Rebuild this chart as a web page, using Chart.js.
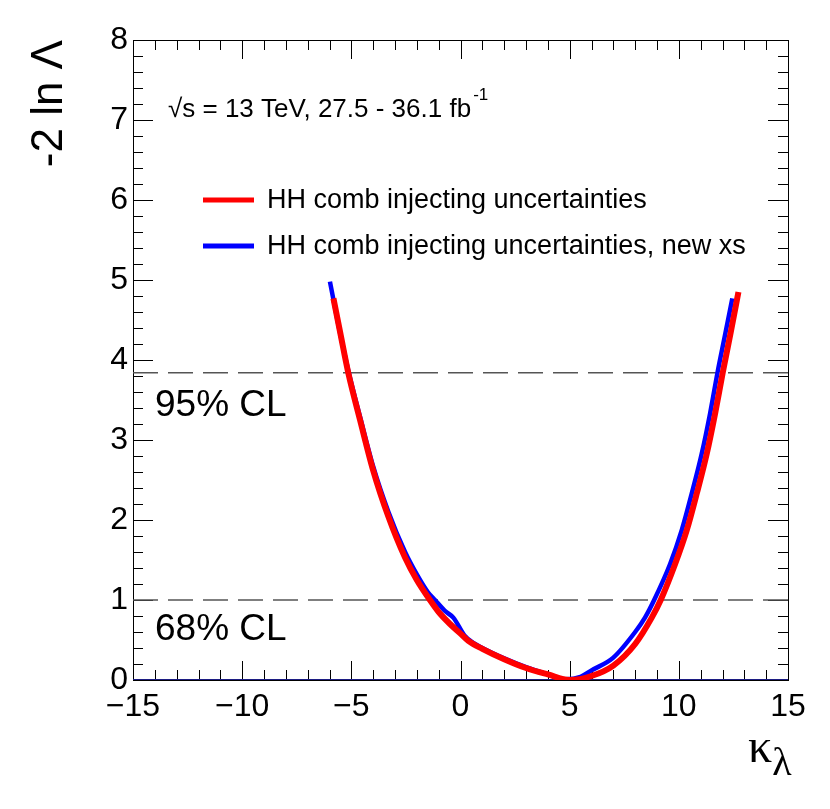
<!DOCTYPE html>
<html>
<head>
<meta charset="utf-8">
<title>-2 ln Lambda scan</title>
<script src="https://cdn.jsdelivr.net/npm/chart.js@4.4.1/dist/chart.umd.min.js"></script>
<style>
  html, body { margin: 0; padding: 0; background: #fff; }
</style>
</head>
<body>
<canvas id="scan" width="830" height="809"></canvas>
<script>
// likelihood scan values
const redKappa = [-5.82, -5.5, -5.14, -4.6, -4.0, -3.3, -2.54, -2.0, -1.4, -1.0, -0.48, 0.0, 0.36, 1.0, 2.0, 3.0, 4.0, 5.0, 6.0, 7.0, 8.0, 8.76, 9.17, 9.83, 10.36, 10.82, 11.28, 11.66, 12.01, 12.38, 12.73];
const redNll   = [4.77, 4.33, 3.84, 3.25, 2.62, 2.04, 1.53, 1.25, 1.00, 0.85, 0.70, 0.58, 0.49, 0.39, 0.26, 0.15, 0.07, 0.00, 0.05, 0.18, 0.45, 0.78, 1.00, 1.45, 1.87, 2.33, 2.83, 3.33, 3.84, 4.35, 4.85];

const blueKappa = [-5.98, -5.6, -5.14, -4.6, -4.0, -3.3, -2.54, -2.0, -1.5, -1.17, -0.7, -0.33, 0.2, 0.5, 1.0, 2.0, 3.0, 4.0, 4.8, 5.5, 6.0, 7.0, 8.0, 8.45, 8.87, 9.6, 10.13, 10.59, 11.05, 11.43, 11.77, 12.1, 12.45];
const blueNll   = [4.98, 4.45, 3.87, 3.29, 2.67, 2.10, 1.60, 1.32, 1.10, 1.00, 0.86, 0.78, 0.55, 0.48, 0.40, 0.27, 0.16, 0.07, 0.01, 0.04, 0.12, 0.28, 0.60, 0.78, 1.00, 1.45, 1.87, 2.33, 2.83, 3.33, 3.84, 4.29, 4.77];

const clLevels = [3.84, 1.0];
const clLabels = ['95% CL', '68% CL'];
const legendLabels = ['HH comb injecting uncertainties', 'HH comb injecting uncertainties, new xs'];
const xRange = [-15, 15];
const yRange = [0, 8];

const toPoints = (xs, ys) => xs.map((x, i) => ({ x: x, y: ys[i] }));

const SANS = '"Liberation Sans", Arial, Helvetica, sans-serif';
const SERIF = '"Liberation Serif", "Times New Roman", serif';

const datasets = [
  {
    label: legendLabels[0],
    data: toPoints(redKappa, redNll),
    borderColor: '#ff0000',
    borderWidth: 6,
    pointRadius: 0,
    cubicInterpolationMode: 'monotone',
    order: 0
  },
  {
    label: legendLabels[1],
    data: toPoints(blueKappa, blueNll),
    borderColor: '#0000ff',
    borderWidth: 4.5,
    pointRadius: 0,
    cubicInterpolationMode: 'monotone',
    order: 1
  }
];
clLevels.forEach((lvl, i) => {
  datasets.push({
    label: clLabels[i],
    data: toPoints(xRange, [lvl, lvl]),
    borderColor: '#555555',
    borderWidth: 1.5,
    borderDash: [25, 10],
    pointRadius: 0,
    order: 2
  });
});
datasets.push({
  label: 'zero',
  data: toPoints(xRange, [0, 0]),
  borderColor: '#1c1c82',
  borderWidth: 2,
  pointRadius: 0,
  order: 3
});

// ROOT style frame, inward ticks on all four sides and the text boxes
const rootFrame = {
  id: 'rootFrame',
  beforeDatasetsDraw(chart) {
    const { ctx, chartArea: a, scales: { x, y } } = chart;
    ctx.save();
    ctx.strokeStyle = '#000';
    ctx.lineWidth = 1;
    ctx.beginPath();
    for (let v = xRange[0]; v <= xRange[1]; v++) {
      const px = Math.round(x.getPixelForValue(v)) + 0.5;
      const len = v % 5 === 0 ? 19 : 10;
      ctx.moveTo(px, a.bottom); ctx.lineTo(px, a.bottom - len);
      ctx.moveTo(px, a.top); ctx.lineTo(px, a.top + len);
    }
    for (let i = 0; i <= yRange[1] * 5; i++) {
      const py = Math.round(y.getPixelForValue(i / 5)) + 0.5;
      const len = i % 5 === 0 ? 20 : 10;
      ctx.moveTo(a.left, py); ctx.lineTo(a.left + len, py);
      ctx.moveTo(a.right, py); ctx.lineTo(a.right - len, py);
    }
    ctx.stroke();
    ctx.strokeRect(Math.round(a.left) + 0.5, Math.round(a.top) + 0.5, Math.round(a.width), Math.round(a.height));
    ctx.restore();
  },
  afterDraw(chart) {
    const { ctx, chartArea: a } = chart;
    ctx.save();
    ctx.fillStyle = '#000';
    ctx.textBaseline = 'alphabetic';
    ctx.textAlign = 'left';

    // energy / lumi label
    ctx.font = '26px ' + SANS;
    const main = '\u221As = 13 TeV, 27.5 - 36.1 fb';
    ctx.fillText(main, a.left + 35, a.top + 77);
    const w = ctx.measureText(main).width;
    ctx.font = '17px ' + SANS;
    ctx.fillText('-1', a.left + 35 + w + 2, a.top + 60);

    // legend
    const colors = ['#ff0000', '#0000ff'];
    const rows = [a.top + 160, a.top + 206];
    rows.forEach((ry, i) => {
      ctx.strokeStyle = colors[i];
      ctx.lineWidth = 5;
      ctx.beginPath();
      ctx.moveTo(a.left + 70, ry);
      ctx.lineTo(a.left + 121, ry);
      ctx.stroke();
      ctx.font = '27px ' + SANS;
      ctx.fillText(legendLabels[i], a.left + 134, ry + 8);
    });

    // CL labels
    ctx.font = '37px ' + SANS;
    ctx.fillText(clLabels[0], a.left + 22, a.top + 376);
    ctx.fillText(clLabels[1], a.left + 22, a.top + 600);

    // x axis title kappa_lambda
    ctx.font = '48px ' + SERIF;
    ctx.fillText('\u03BA', a.right - 40, a.bottom + 82);
    const kw = ctx.measureText('\u03BA').width;
    ctx.font = '40px ' + SERIF;
    ctx.fillText('\u03BB', a.right - 40 + kw, a.bottom + 95);
    ctx.restore();
  }
};

new Chart(document.getElementById('scan'), {
  type: 'line',
  data: { datasets: datasets },
  options: {
    responsive: false,
    animation: false,
    layout: { padding: { left: 0, top: 40, right: 42, bottom: 0 } },
    plugins: {
      legend: { display: false },
      tooltip: { enabled: false }
    },
    scales: {
      x: {
        type: 'linear',
        min: xRange[0],
        max: xRange[1],
        grid: { display: false, drawTicks: false },
        border: { display: false },
        afterFit: s => { s.height = 129; },
        ticks: {
          stepSize: 5,
          padding: 8,
          color: '#000',
          font: { family: SANS, size: 32 },
          maxRotation: 0,
          callback: v => String(v).replace('-', '\u2212')
        }
      },
      y: {
        type: 'linear',
        min: yRange[0],
        max: yRange[1],
        grid: { display: false, drawTicks: false },
        border: { display: false },
        afterFit: s => { s.width = 133; },
        title: {
          display: true,
          text: '-2 ln \u039B',
          align: 'end',
          color: '#000',
          font: { family: SANS, size: 44 },
          padding: { top: 23, bottom: 0 }
        },
        ticks: {
          stepSize: 1,
          padding: 5,
          color: '#000',
          font: { family: SANS, size: 32 }
        }
      }
    }
  },
  plugins: [rootFrame]
});
</script>
</body>
</html>
